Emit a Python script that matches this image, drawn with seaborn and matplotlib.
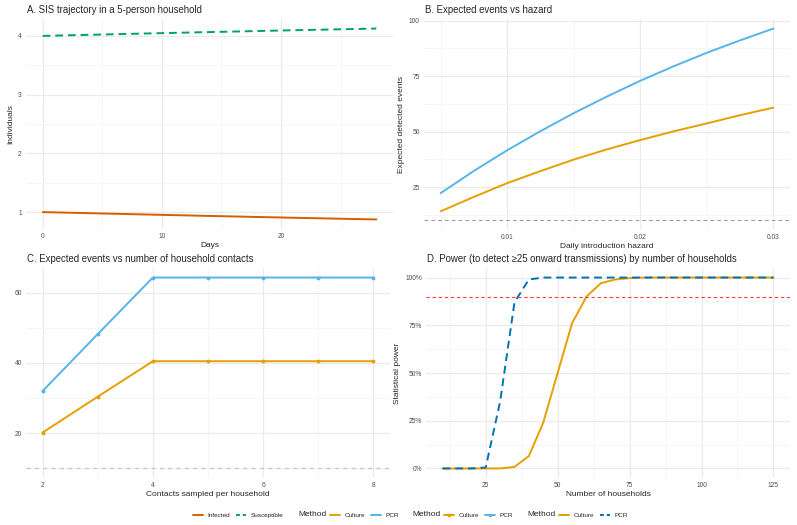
import numpy as np
import pandas as pd
import matplotlib
matplotlib.use("Agg")
from matplotlib import pyplot as plt
from matplotlib.lines import Line2D
from matplotlib.ticker import MultipleLocator, PercentFormatter
import seaborn as sns

# ---- data ----
days = [0, 7, 14, 21, 28]
infected = [1.0, 0.967, 0.935, 0.904, 0.875]
susceptible = [4.0, 4.033, 4.065, 4.096, 4.125]

hazard = [0.005, 0.0075, 0.01, 0.0125, 0.015, 0.0175, 0.02, 0.0225, 0.025, 0.0275, 0.03]
events_pcr = [22.3, 32.3, 41.6, 50.2, 58.3, 65.8, 72.9, 79.4, 85.5, 91.1, 96.4]
events_culture = [14.1, 20.6, 26.8, 32.2, 37.4, 42.0, 46.2, 50.1, 53.7, 57.4, 60.8]

contacts = [2, 3, 4, 5, 6, 7, 8]
contacts_pcr = [32.0, 48.2, 64.3, 64.3, 64.3, 64.3, 64.3]
contacts_culture = [20.2, 30.4, 40.5, 40.5, 40.5, 40.5, 40.5]

households = [10, 15, 20, 25, 30, 35, 40, 45, 50, 55, 60, 65, 70, 75,
              80, 85, 90, 95, 100, 105, 110, 115, 120, 125]
power_culture = [0, 0, 0, 0, 0, 0.008, 0.065, 0.24, 0.50, 0.76, 0.90, 0.97,
                 0.99, 0.997, 1, 1, 1, 1, 1, 1, 1, 1, 1, 1]
power_pcr = [0, 0, 0, 0.005, 0.35, 0.87, 0.99, 1, 1, 1, 1, 1,
             1, 1, 1, 1, 1, 1, 1, 1, 1, 1, 1, 1]

detect_threshold = 10
power_target = 0.9

C_INF, C_SUS = "#D55E00", "#009E73"
C_CUL, C_PCR, C_PCR2 = "#E69F00", "#56B4E9", "#0072B2"

sns.set_theme(style="whitegrid")
plt.rcParams["font.family"] = ["Liberation Sans", "DejaVu Sans"]
plt.rcParams["axes.edgecolor"] = "none"
plt.rcParams["grid.color"] = "#EBEBEB"

W, H = 797, 525
fig = plt.figure(figsize=(W / 100, H / 100), dpi=100)
fig.patch.set_facecolor("white")

TITLE, LAB, TICK = 6.9, 6.0, 4.8
LW = 1.4


def px_axes(l, t, r, b):
    return fig.add_axes([l / W, 1 - b / H, (r - l) / W, (b - t) / H])


def gg_lim(*vals):
    # ggplot-style 5% expansion around everything drawn (incl. reference lines)
    lo, hi = min(min(v) for v in vals), max(max(v) for v in vals)
    pad = 0.05 * (hi - lo)
    return lo - pad, hi + pad


def style(ax, xmaj, ymaj, xlabel, ylabel):
    ax.set_facecolor("white")
    ax.xaxis.set_major_locator(MultipleLocator(xmaj))
    ax.xaxis.set_minor_locator(MultipleLocator(xmaj / 2))
    ax.yaxis.set_major_locator(MultipleLocator(ymaj))
    ax.yaxis.set_minor_locator(MultipleLocator(ymaj / 2))
    ax.grid(which="major", color="#EBEBEB", lw=0.9)
    ax.grid(which="minor", color="#F3F3F3", lw=0.5)
    ax.tick_params(which="both", length=0, labelsize=TICK, labelcolor="#4D4D4D", pad=3)
    ax.set_xlabel(xlabel, fontsize=LAB, labelpad=1.5)
    ax.set_ylabel(ylabel, fontsize=LAB, labelpad=3)
    ax.set_axisbelow(True)


# A. SIS trajectory
axA = px_axes(26, 19, 393, 229)
dfA = pd.DataFrame({"day": days * 2, "n": infected + susceptible,
                    "state": ["Infected"] * len(days) + ["Susceptible"] * len(days)})
sns.lineplot(data=dfA, x="day", y="n", hue="state", style="state",
             palette={"Infected": C_INF, "Susceptible": C_SUS},
             dashes={"Infected": "", "Susceptible": (4, 2.5)},
             lw=LW, legend=False, ax=axA)
style(axA, 10, 1, "Days", "Individuals")
axA.set_xlim(*gg_lim(days))
axA.set_ylim(*gg_lim(infected, susceptible))

# B. Expected events vs hazard
axB = px_axes(424, 19, 790, 230)
dfB = pd.DataFrame({"h": hazard * 2, "e": events_culture + events_pcr,
                    "Method": ["Culture"] * len(hazard) + ["PCR"] * len(hazard)})
sns.lineplot(data=dfB, x="h", y="e", hue="Method",
             palette={"Culture": C_CUL, "PCR": C_PCR}, lw=LW, legend=False, ax=axB)
axB.axhline(detect_threshold, color="#9A9A9A", lw=0.7, ls=(0, (4, 3)))
style(axB, 0.01, 25, "Daily introduction hazard", "Expected detected events")
axB.set_xlim(*gg_lim(hazard))
axB.set_ylim(*gg_lim(events_culture, events_pcr, [detect_threshold]))

# C. Expected events vs contacts
axC = px_axes(26, 268, 390, 478)
dfC = pd.DataFrame({"k": contacts * 2, "e": contacts_culture + contacts_pcr,
                    "Method": ["Culture"] * len(contacts) + ["PCR"] * len(contacts)})
sns.lineplot(data=dfC, x="k", y="e", hue="Method",
             palette={"Culture": C_CUL, "PCR": C_PCR}, lw=LW,
             marker="o", markersize=2.8, markeredgewidth=0, legend=False, ax=axC)
axC.axhline(detect_threshold, color="#C8C8C8", lw=1.0, ls=(0, (3, 3)))
style(axC, 2, 20, "Contacts sampled per household", "")
axC.set_xlim(*gg_lim(contacts))
axC.set_ylim(*gg_lim(contacts_culture, contacts_pcr, [detect_threshold]))

# D. Power
axD = px_axes(426, 268, 790, 478)
dfD = pd.DataFrame({"n": households * 2, "p": power_culture + power_pcr,
                    "Method": ["Culture"] * len(households) + ["PCR"] * len(households)})
sns.lineplot(data=dfD, x="n", y="p", hue="Method", style="Method",
             palette={"Culture": C_CUL, "PCR": C_PCR2},
             dashes={"Culture": "", "PCR": (4, 2.5)}, lw=LW, legend=False, ax=axD)
axD.axhline(power_target, color="#FF3B3B", lw=0.8, ls=(0, (3, 2.5)))
style(axD, 25, 0.25, "Number of households", "Statistical power")
axD.yaxis.set_major_formatter(PercentFormatter(1.0, decimals=0))
axD.set_xlim(*gg_lim(households))
axD.set_ylim(*gg_lim(power_culture, power_pcr))

# panel titles
for x, y, t in [(27, 10, "A. SIS trajectory in a 5-person household"),
                (425, 10, "B. Expected events vs hazard"),
                (27, 259, "C. Expected events vs number of household contacts"),
                (427, 259, "D. Power (to detect \u226525 onward transmissions) by number of households")]:
    fig.text(x / W, 1 - y / H, t, fontsize=TITLE, va="center", ha="left")

# legends along the bottom
ly = 1 - 515 / H
kw = dict(loc="center left", frameon=False, fontsize=TICK - 0.2, ncol=2, borderpad=0,
          borderaxespad=0, handlelength=1.6, handletextpad=0.7, columnspacing=0.9)


def ln(c, ls="-", marker=None):
    return Line2D([], [], color=c, lw=LW, ls=ls, marker=marker, markersize=2.6,
                  markeredgewidth=0)


fig.legend([ln(C_INF), ln(C_SUS, (0, (2, 1.5)))], ["Infected", "Susceptible"],
           bbox_to_anchor=(193 / W, ly), **kw)
groups = [(298, [ln(C_CUL), ln(C_PCR)]),
          (412, [ln(C_CUL, marker="o"), ln(C_PCR, marker="o")]),
          (527, [ln(C_CUL), ln(C_PCR2, (0, (2, 1.5)))])]
for x0, hs in groups:
    fig.text(x0 / W, ly, "Method", fontsize=LAB, va="center", ha="left")
    fig.legend(hs, ["Culture", "PCR"], bbox_to_anchor=((x0 + 32) / W, ly), **kw)

fig.savefig("out.png", dpi=100, facecolor="white")
